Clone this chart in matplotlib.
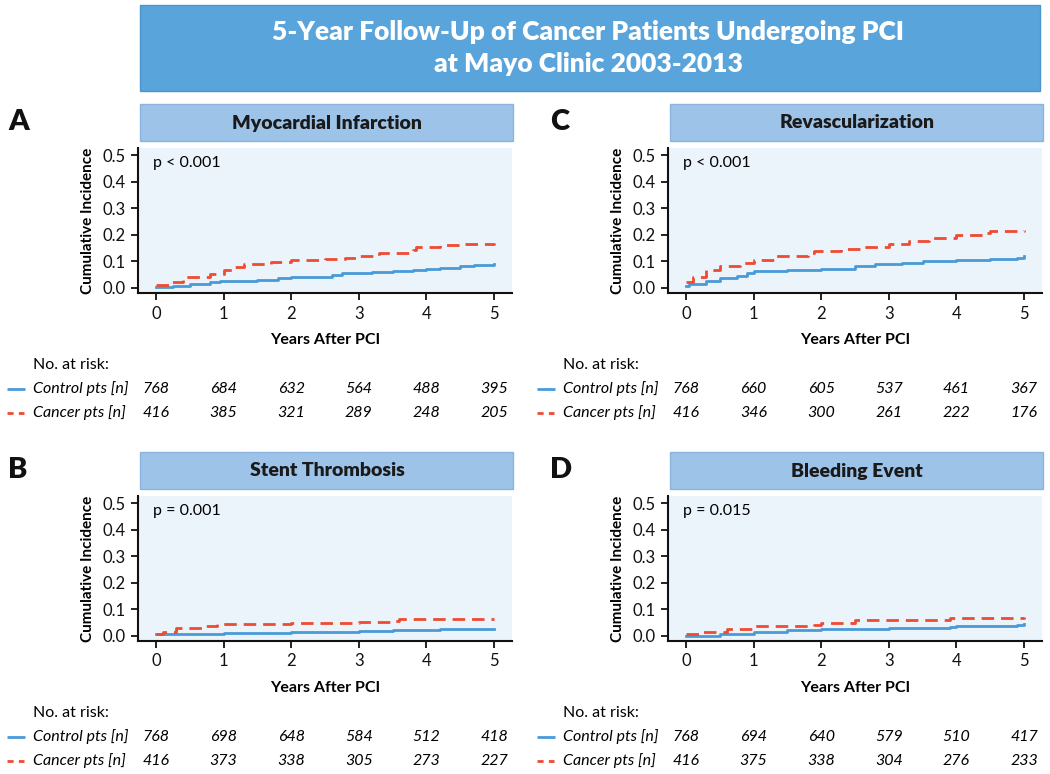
import matplotlib
matplotlib.use("Agg")
import matplotlib.pyplot as plt
import matplotlib.transforms as mtransforms
from matplotlib.patches import Rectangle
from matplotlib.lines import Line2D

plt.rcParams['font.family'] = ['Lato', 'DejaVu Sans']

W, H = 1050, 774

title = "5-Year Follow-Up of Cancer Patients Undergoing PCI\nat Mayo Clinic 2003-2013"
panel_letters = ["A", "C", "B", "D"]
panel_titles = ["Myocardial Infarction", "Revascularization", "Stent Thrombosis", "Bleeding Event"]
p_values = ["p < 0.001", "p < 0.001", "p = 0.001", "p = 0.015"]
series_names = ["Control pts [n]", "Cancer pts [n]"]
x_ticks = [0, 1, 2, 3, 4, 5]
y_ticks = [0.0, 0.1, 0.2, 0.3, 0.4, 0.5]

# Cumulative incidence step curves (time in years, value)
mi_ctrl_t = [0, 0.25, 0.5, 0.8, 0.95, 1.5, 1.8, 2.0, 2.6, 2.75, 3.2, 3.5, 3.8, 4.0, 4.2, 4.5, 4.7, 5.0]
mi_ctrl_v = [0.003, 0.008, 0.015, 0.02, 0.026, 0.03, 0.035, 0.04, 0.047, 0.055, 0.058, 0.063, 0.068, 0.072, 0.075, 0.08, 0.086, 0.088]
mi_canc_t = [0, 0.2, 0.4, 0.8, 1.0, 1.15, 1.3, 1.7, 2.0, 2.5, 2.8, 3.0, 3.3, 3.8, 3.85, 4.2, 4.5, 5.0]
mi_canc_v = [0.01, 0.02, 0.04, 0.05, 0.065, 0.078, 0.088, 0.097, 0.103, 0.11, 0.113, 0.12, 0.132, 0.143, 0.155, 0.16, 0.163, 0.167]

rv_ctrl_t = [0, 0.05, 0.3, 0.5, 0.75, 0.9, 1.0, 1.5, 2.0, 2.5, 2.8, 3.2, 3.5, 4.0, 4.5, 4.9, 5.0]
rv_ctrl_v = [0.005, 0.015, 0.025, 0.035, 0.045, 0.055, 0.062, 0.065, 0.072, 0.08, 0.09, 0.094, 0.1, 0.105, 0.11, 0.112, 0.118]
rv_canc_t = [0, 0.1, 0.3, 0.5, 0.8, 1.0, 1.3, 1.8, 1.9, 2.3, 2.6, 3.0, 3.3, 3.6, 4.0, 4.4, 4.5, 5.0]
rv_canc_v = [0.02, 0.04, 0.065, 0.08, 0.095, 0.105, 0.12, 0.13, 0.14, 0.145, 0.155, 0.165, 0.178, 0.187, 0.2, 0.205, 0.215, 0.218]

st_ctrl_t = [0, 0.5, 1.0, 2.0, 3.0, 3.5, 4.2, 5.0]
st_ctrl_v = [0.005, 0.008, 0.01, 0.015, 0.018, 0.022, 0.025, 0.025]
st_canc_t = [0, 0.1, 0.3, 0.7, 0.9, 2.0, 3.0, 3.5, 3.6, 5.0]
st_canc_v = [0.005, 0.015, 0.028, 0.035, 0.045, 0.048, 0.053, 0.055, 0.063, 0.063]

bl_ctrl_t = [0, 0.5, 1.0, 1.5, 2.0, 3.0, 3.9, 4.0, 4.9, 5.0]
bl_ctrl_v = [0.0, 0.008, 0.015, 0.02, 0.025, 0.03, 0.032, 0.038, 0.04, 0.045]
bl_canc_t = [0, 0.2, 0.6, 1.0, 1.9, 2.0, 2.5, 3.5, 3.9, 5.0]
bl_canc_v = [0.005, 0.015, 0.025, 0.035, 0.04, 0.048, 0.058, 0.06, 0.065, 0.07]

# Numbers at risk
mi_ctrl_n = [768, 684, 632, 564, 488, 395]
mi_canc_n = [416, 385, 321, 289, 248, 205]
rv_ctrl_n = [768, 660, 605, 537, 461, 367]
rv_canc_n = [416, 346, 300, 261, 222, 176]
st_ctrl_n = [768, 698, 648, 584, 512, 418]
st_canc_n = [416, 373, 338, 305, 273, 227]
bl_ctrl_n = [768, 694, 640, 579, 510, 417]
bl_canc_n = [416, 375, 338, 304, 276, 233]

panels = [
    (mi_ctrl_t, mi_ctrl_v, mi_canc_t, mi_canc_v, mi_ctrl_n, mi_canc_n),
    (rv_ctrl_t, rv_ctrl_v, rv_canc_t, rv_canc_v, rv_ctrl_n, rv_canc_n),
    (st_ctrl_t, st_ctrl_v, st_canc_t, st_canc_v, st_ctrl_n, st_canc_n),
    (bl_ctrl_t, bl_ctrl_v, bl_canc_t, bl_canc_v, bl_ctrl_n, bl_canc_n),
]

BLUE = "#4a9ad8"
RED = "#ef4a32"
TITLE_BG = "#5aa4dc"
HEAD_BG = "#9dc3e8"
AX_BG = "#ebf3fb"
DASH = (0, (4.5, 2.5))

fig = plt.figure(figsize=(W / 100, H / 100), dpi=100)


def fx(x):
    return x / W


def fy(y):
    return 1 - y / H


def box(l, t, r, b, color, edge):
    fig.patches.append(Rectangle((fx(l), fy(b)), (r - l) / W, (b - t) / H,
                                 transform=fig.transFigure, facecolor=color,
                                 edgecolor=edge, linewidth=1.0, zorder=0))


# Main title
box(140, 5, 1040, 91, TITLE_BG, "#4b95cf")
fig.text(fx(588), fy(48), title, ha="center", va="center", color="white",
         fontsize=19, fontweight="heavy", linespacing=1.35)

col_left = [138, 668]
row_top = [104, 452]  # header box top

for i in range(4):
    row, col = divmod(i, 2)
    ctrl_t, ctrl_v, canc_t, canc_v, ctrl_n, canc_n = panels[i]
    L = col_left[col]
    R = L + 374
    ht = row_top[row]
    # Panel header
    box(L + 2, ht, R + 1, ht + 37, HEAD_BG, "#8ab4df")
    fig.text(fx((L + R) / 2 + 2), fy(ht + 19), panel_titles[i], ha="center", va="center",
             fontsize=14, fontweight="heavy", color="#1a1a1a")
    fig.text(fx(L - 130 + (col * 12)), fy(ht + 18), panel_letters[i], ha="left", va="center",
             fontsize=21, fontweight="heavy", color="#111111")
    # Axes
    at = ht + 44
    ab = at + 145
    ax = fig.add_axes([fx(L), fy(ab), (R - L) / W, (ab - at) / H])
    ax.set_facecolor(AX_BG)
    ax.step(ctrl_t, ctrl_v, where="post", color=BLUE, lw=2.0, zorder=3)
    ax.step(canc_t, canc_v, where="post", color=RED, lw=2.0, ls=DASH, zorder=4)
    ax.set_xlim(-0.266, 5.266)
    ax.set_ylim(-0.02, 0.527)
    ax.set_xticks(x_ticks)
    ax.set_yticks(y_ticks)
    ax.set_yticklabels([f"{v:.1f}" for v in y_ticks])
    for s in ["top", "right"]:
        ax.spines[s].set_visible(False)
    for s in ["left", "bottom"]:
        ax.spines[s].set_linewidth(1.5)
        ax.spines[s].set_color("#111111")
    ax.tick_params(direction="out", length=5, width=1.3, labelsize=12, colors="#111111", pad=4)
    ax.set_ylabel("Cumulative Incidence", fontsize=11, fontweight="bold", labelpad=5)
    ax.set_xlabel("Years After PCI", fontsize=11.5, fontweight="bold", labelpad=8)
    ax.text(0.04, 0.9, p_values[i], transform=ax.transAxes, fontsize=11.5, ha="left", va="center")

    # Risk table
    tx = L - 105
    y_no = ab + 72
    y_c = ab + 96
    y_k = ab + 120
    fig.text(fx(tx), fy(y_no), "No. at risk:", fontsize=11.5, ha="left", va="center")
    fig.text(fx(tx), fy(y_c), series_names[0], fontsize=11.5, style="italic", ha="left", va="center")
    fig.text(fx(tx), fy(y_k), series_names[1], fontsize=11.5, style="italic", ha="left", va="center")
    fig.lines.append(Line2D([fx(tx - 26), fx(tx - 8)], [fy(y_c), fy(y_c)], transform=fig.transFigure,
                            color=BLUE, lw=2, solid_capstyle="butt"))
    fig.lines.append(Line2D([fx(tx - 26), fx(tx - 9)], [fy(y_k), fy(y_k)], transform=fig.transFigure,
                            color=RED, lw=2, ls=(0, (2.2, 1.9)), dash_capstyle="butt"))
    trans = mtransforms.blended_transform_factory(ax.transData, fig.transFigure)
    for xv, nc, nk in zip(x_ticks, ctrl_n, canc_n):
        fig.text(xv, fy(y_c), str(nc), transform=trans, fontsize=11.5, style="italic", ha="center", va="center")
        fig.text(xv, fy(y_k), str(nk), transform=trans, fontsize=11.5, style="italic", ha="center", va="center")

fig.savefig("out.png", dpi=100)
